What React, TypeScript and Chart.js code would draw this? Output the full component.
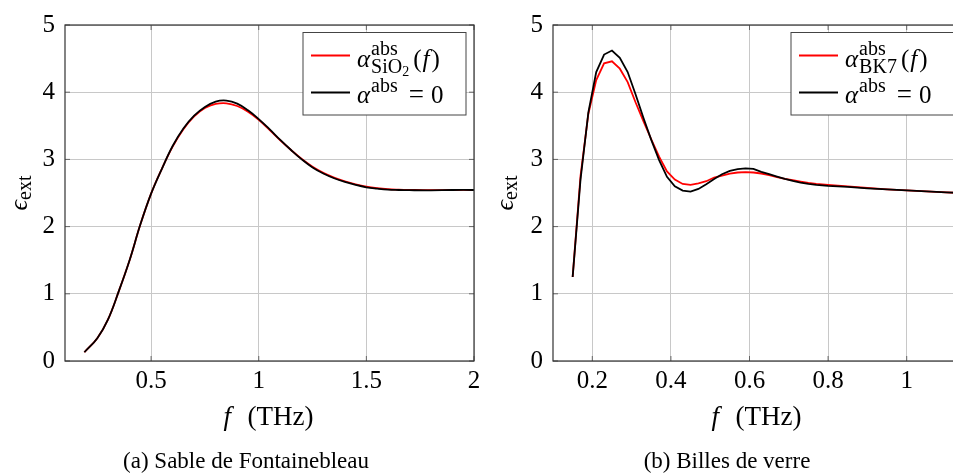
import React, { useEffect, useRef } from "react";
import { Chart, registerables } from "chart.js";

Chart.register(...registerables);

const FONT = "'Liberation Serif', 'DejaVu Serif', serif";

// ---- (a) Sable de Fontainebleau ----
const fA = [0.19, 0.25, 0.3, 0.35, 0.4, 0.45, 0.5, 0.55, 0.6, 0.65, 0.7, 0.75, 0.8, 0.85, 0.9, 0.95, 1.0, 1.05, 1.1, 1.15, 1.2, 1.25, 1.3, 1.35, 1.4, 1.45, 1.5, 1.55, 1.6, 1.65, 1.7, 1.8, 1.9, 2.0];
const redA = [0.13, 0.34, 0.62, 1.04, 1.5, 2.03, 2.49, 2.86, 3.19, 3.45, 3.64, 3.765, 3.825, 3.835, 3.795, 3.71, 3.59, 3.44, 3.285, 3.14, 3.005, 2.89, 2.8, 2.73, 2.675, 2.63, 2.595, 2.572, 2.557, 2.55, 2.546, 2.542, 2.545, 2.545];
const blackA = [0.13, 0.34, 0.62, 1.04, 1.5, 2.03, 2.49, 2.86, 3.2, 3.46, 3.65, 3.78, 3.86, 3.875, 3.83, 3.73, 3.6, 3.45, 3.29, 3.14, 3.0, 2.88, 2.79, 2.72, 2.665, 2.62, 2.585, 2.565, 2.55, 2.545, 2.542, 2.54, 2.545, 2.545];
const xTicksA = [0.5, 1, 1.5, 2];

// ---- (b) Billes de verre ----
const fB = [0.15, 0.17, 0.19, 0.21, 0.23, 0.25, 0.27, 0.29, 0.31, 0.33, 0.35, 0.37, 0.39, 0.41, 0.43, 0.45, 0.47, 0.49, 0.51, 0.53, 0.55, 0.57, 0.59, 0.61, 0.63, 0.65, 0.67, 0.69, 0.71, 0.73, 0.75, 0.77, 0.8, 0.85, 0.9, 0.95, 1.0, 1.05, 1.1, 1.14];
const redB = [1.25, 2.75, 3.68, 4.18, 4.43, 4.46, 4.35, 4.15, 3.85, 3.57, 3.3, 3.04, 2.82, 2.7, 2.635, 2.62, 2.645, 2.675, 2.73, 2.76, 2.79, 2.805, 2.81, 2.805, 2.79, 2.765, 2.735, 2.71, 2.69, 2.67, 2.65, 2.635, 2.62, 2.6, 2.575, 2.555, 2.54, 2.525, 2.51, 2.5];
const blackB = [1.25, 2.7, 3.7, 4.3, 4.56, 4.62, 4.51, 4.3, 3.97, 3.62, 3.29, 2.99, 2.74, 2.6, 2.535, 2.52, 2.56, 2.63, 2.71, 2.78, 2.83, 2.855, 2.865, 2.86, 2.815, 2.78, 2.745, 2.71, 2.68, 2.655, 2.635, 2.62, 2.605, 2.59, 2.57, 2.555, 2.54, 2.525, 2.51, 2.5];
const xTicksB = [0.2, 0.4, 0.6, 0.8, 1];

const yTicks = [0, 1, 2, 3, 4, 5];

const fnt = (size: number, italic = false) => `${italic ? "italic " : ""}${size}px ${FONT}`;

function txt(ctx: CanvasRenderingContext2D, t: string, x: number, y: number, size: number, italic = false) {
  ctx.font = fnt(size, italic);
  ctx.fillText(t, x, y);
  return x + ctx.measureText(t).width;
}
function wid(ctx: CanvasRenderingContext2D, t: string, size: number, italic = false) {
  ctx.font = fnt(size, italic);
  return ctx.measureText(t).width;
}

type Spec = {
  f: number[];
  red: number[];
  black: number[];
  xTicks: number[];
  xmin: number;
  xmax: number;
  smooth: boolean;
  yWidth: number;
  padRight: number;
  yTitleX: number;
  captionX: number;
  caption: string;
  sub: { t: string; size: number; dy: number }[];
  redLabel: string;
};

const SCRIPT = 20;

function decor(spec: Spec) {
  return {
    id: "decor",
    afterDraw(chart: any) {
      const ctx: CanvasRenderingContext2D = chart.ctx;
      const a = chart.chartArea;
      const xs = chart.scales.x;
      const ys = chart.scales.y;
      ctx.save();
      // tick marks
      ctx.strokeStyle = "#666";
      ctx.lineWidth = 1;
      ctx.beginPath();
      for (const v of spec.xTicks) {
        const px = xs.getPixelForValue(v);
        ctx.moveTo(px, a.bottom);
        ctx.lineTo(px, a.bottom - 5);
        ctx.moveTo(px, a.top);
        ctx.lineTo(px, a.top + 5);
      }
      for (const v of yTicks) {
        const py = ys.getPixelForValue(v);
        ctx.moveTo(a.left, py);
        ctx.lineTo(a.left + 5, py);
        ctx.moveTo(a.right, py);
        ctx.lineTo(a.right - 5, py);
      }
      ctx.stroke();
      // frame
      ctx.strokeStyle = "#333";
      ctx.lineWidth = 1.2;
      ctx.strokeRect(a.left, a.top, a.right - a.left, a.bottom - a.top);

      ctx.textBaseline = "alphabetic";
      ctx.textAlign = "left";

      // legend
      const bw = 163;
      const bh = 82.5;
      const bl = a.right - 8 - bw;
      const bt = a.top + 7.5;
      ctx.fillStyle = "#fff";
      ctx.fillRect(bl, bt, bw, bh);
      ctx.strokeStyle = "#444";
      ctx.lineWidth = 1;
      ctx.strokeRect(bl, bt, bw, bh);
      ctx.lineWidth = 1.8;
      ctx.strokeStyle = "#ff0000";
      ctx.beginPath();
      ctx.moveTo(bl + 8, bt + 23);
      ctx.lineTo(bl + 47, bt + 23);
      ctx.stroke();
      ctx.strokeStyle = "#000";
      ctx.beginPath();
      ctx.moveTo(bl + 8, bt + 60);
      ctx.lineTo(bl + 47, bt + 60);
      ctx.stroke();
      ctx.fillStyle = "#000";
      // row 1
      const b1 = bt + 34.5;
      let x = bl + 54;
      x = txt(ctx, "α", x, b1, 25, true);
      const supW = wid(ctx, "abs", SCRIPT);
      txt(ctx, "abs", x + 1, b1 - 12, SCRIPT);
      let sx = x + 1;
      for (const s of spec.sub) sx = txt(ctx, s.t, sx, b1 + s.dy, s.size);
      x = Math.max(x + 1 + supW, sx) + 4;
      x = txt(ctx, "(", x, b1, 25);
      x = txt(ctx, "f", x + 1, b1, 25, true);
      txt(ctx, ")", x + 2, b1, 25);
      // row 2
      const b2 = bt + 70;
      x = bl + 54;
      x = txt(ctx, "α", x, b2, 25, true);
      x = txt(ctx, "abs", x + 1, b2 - 11, SCRIPT);
      x = txt(ctx, "=", x + 11, b2, 27);
      txt(ctx, "0", x + 7, b2, 25);

      // x title
      const cx = (a.left + a.right) / 2;
      txt(ctx, "f", cx - 46, 425, 27, true);
      txt(ctx, "(THz)", cx - 22, 425, 27);

      // caption
      ctx.textAlign = "center";
      txt(ctx, spec.caption, spec.captionX, 468, 23);
      ctx.textAlign = "left";

      // y title (rotated)
      const cy = (a.top + a.bottom) / 2;
      const we = wid(ctx, "ϵ", 26, true);
      const wx = wid(ctx, "ext", SCRIPT);
      ctx.translate(spec.yTitleX, cy);
      ctx.rotate(-Math.PI / 2);
      let yx = -(we + wx) / 2;
      yx = txt(ctx, "ϵ", yx, 0, 26, true);
      txt(ctx, "ext", yx, 4, SCRIPT);
      ctx.restore();
    },
  };
}

function build(canvas: HTMLCanvasElement, spec: Spec) {
  const tickFont = { family: FONT, size: 25 };
  return new Chart(canvas, {
    type: "line",
    data: {
      datasets: [
        {
          label: spec.redLabel,
          data: spec.f.map((x, i) => ({ x, y: spec.red[i] })),
          borderColor: "#ff0000",
          borderWidth: 1.8,
          pointRadius: 0,
          tension: spec.smooth ? 0.4 : 0,
          order: 1,
        },
        {
          label: "α^abs = 0",
          data: spec.f.map((x, i) => ({ x, y: spec.black[i] })),
          borderColor: "#000000",
          borderWidth: 1.8,
          pointRadius: 0,
          tension: spec.smooth ? 0.4 : 0,
          order: 0,
        },
      ],
    },
    options: {
      animation: false,
      responsive: false,
      events: [],
      layout: { padding: { top: 20, right: spec.padRight, left: 0, bottom: 0 } },
      plugins: { legend: { display: false }, tooltip: { enabled: false } },
      scales: {
        x: {
          type: "linear",
          min: spec.xmin,
          max: spec.xmax,
          afterFit: (s: any) => {
            s.height = 114;
          },
          afterBuildTicks: (s: any) => {
            s.ticks = spec.xTicks.map((v) => ({ value: v }));
          },
          ticks: {
            font: tickFont,
            color: "#000",
            padding: 5,
            autoSkip: false,
            maxRotation: 0,
            callback: (v: any) => String(v),
          },
          grid: { color: "#c8c8c8", lineWidth: 1, drawTicks: false },
          border: { display: false },
        },
        y: {
          type: "linear",
          min: 0,
          max: 5,
          afterFit: (s: any) => {
            s.width = spec.yWidth;
          },
          afterBuildTicks: (s: any) => {
            s.ticks = yTicks.map((v) => ({ value: v }));
          },
          ticks: {
            font: tickFont,
            color: "#000",
            padding: 10,
            callback: (v: any) => String(v),
          },
          grid: { color: "#c8c8c8", lineWidth: 1, drawTicks: false },
          border: { display: false },
        },
      },
    },
    plugins: [decor(spec)],
  } as any);
}

const specA: Spec = {
  f: fA,
  red: redA,
  black: blackA,
  xTicks: xTicksA,
  xmin: 0.1,
  xmax: 2,
  smooth: true,
  yWidth: 65,
  padRight: 16,
  yTitleX: 26.5,
  captionX: 246,
  caption: "(a) Sable de Fontainebleau",
  sub: [
    { t: "SiO", size: SCRIPT, dy: 6 },
    { t: "2", size: 14, dy: 9 },
  ],
  redLabel: "α^abs_SiO2(f)",
};

const specB: Spec = {
  f: fB,
  red: redB,
  black: blackB,
  xTicks: xTicksB,
  xmin: 0.1,
  xmax: 1.1407,
  smooth: false,
  yWidth: 73,
  padRight: 20,
  yTitleX: 33,
  captionX: 247,
  caption: "(b) Billes de verre",
  sub: [{ t: "BK7", size: SCRIPT, dy: 6 }],
  redLabel: "α^abs_BK7(f)",
};

function Panel({ spec, left, width }: { spec: Spec; left: number; width: number }) {
  const ref = useRef<HTMLCanvasElement | null>(null);
  useEffect(() => {
    if (!ref.current) return;
    const c = build(ref.current, spec);
    return () => c.destroy();
  }, [spec]);
  return (
    <div style={{ position: "absolute", left, top: 0, width, height: 475 }}>
      <canvas ref={ref} width={width} height={475} style={{ display: "block", width, height: 475 }} />
    </div>
  );
}

export default function App() {
  return (
    <div
      style={{
        position: "fixed",
        left: 0,
        top: 0,
        width: 953,
        height: 475,
        overflow: "hidden",
        background: "#fff",
      }}
    >
      <Panel spec={specA} left={0} width={490} />
      <Panel spec={specB} left={480} width={502} />
    </div>
  );
}
